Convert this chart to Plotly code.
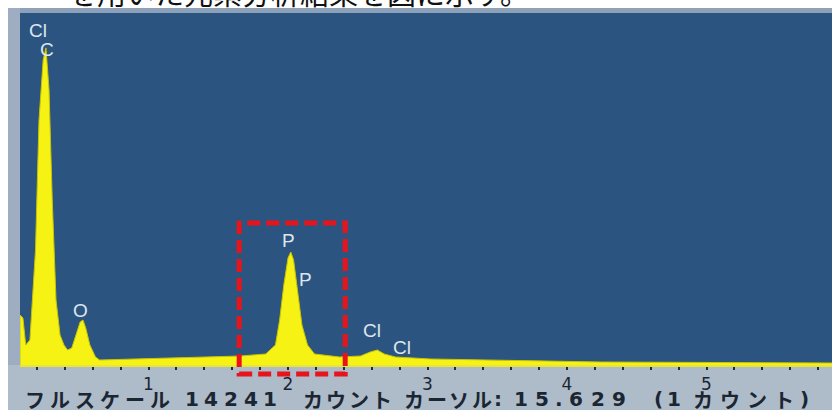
import plotly.graph_objects as go

# Spectrum (energy keV, counts)
energy_kev = [0.08, 0.10, 0.12, 0.15, 0.19, 0.215, 0.245, 0.265, 0.287, 0.31, 0.337,
              0.366, 0.394, 0.42, 0.45, 0.48, 0.51, 0.53, 0.55, 0.58, 0.62, 0.65,
              0.87, 1.08, 1.37, 1.66, 1.84, 1.91, 1.94, 1.97, 2.00, 2.02, 2.04, 2.07,
              2.10, 2.14, 2.19, 2.37, 2.52, 2.59, 2.64, 2.69, 2.77, 3.02, 3.52, 4.24, 5.90]
counts = [2023, 1900, 810, 1010, 4650, 9900, 12340, 12830, 11130, 6680, 2630,
          1214, 810, 607, 690, 1214, 1740, 1820, 1500, 810, 324, 202,
          243, 283, 324, 364, 445, 810, 1820, 3237, 4330, 4572, 4250, 3035,
          1618, 810, 445, 324, 364, 526, 607, 445, 324, 243, 202, 121, 81]

label_text = ["Cl", "C", "O", "P", "P", "Cl", "Cl"]
label_kev = [0.208, 0.272, 0.509, 2.007, 2.129, 2.602, 2.817]
label_counts = [13513, 12745, 2225, 5017, 3440, 1416, 728]

tick_vals = [round(0.2 * i, 1) for i in range(0, 30)]
tick_major = [1, 2, 3, 4, 5]
tick_text = [str(int(round(v))) if abs(v - round(v)) < 1e-9 and int(round(v)) in tick_major else "" for v in tick_vals]

full_scale = 14241
x_range = [0.0789, 5.8996]
box_kev = [1.65, 2.41]

# status line pieces with their pixel spans (start, end)
status_parts = ["フルスケール", "14241", "カウント", "カーソル:", "15.629", "(1", "カウント)"]
status_spans = [(22, 172), (182, 280), (302, 393), (403, 503), (510, 630), (652, 683), (690, 813)]
top_text = "を用いた元素分析結果を図に示す。"

W, H = 832, 410
ml, mr, mt, mb = 20, 0, 13, 45
pw, ph = W - ml - mr, H - mt - mb

def px_x(px):
    return (px - ml) / pw

def px_y(py):
    return (H - mb - py) / ph

def kev_to_paper(k):
    return (k - x_range[0]) / (x_range[1] - x_range[0])

def char_weight(c):
    if c in ".:":
        return 0.45
    if c in "()":
        return 0.6
    if c.isdigit():
        return 0.8
    return 1.0

fig = go.Figure()
fig.add_trace(go.Scatter(
    x=energy_kev, y=counts, mode="lines", fill="tozeroy",
    line=dict(color="#c9c400", width=1), fillcolor="#f6f214",
    hoverinfo="skip", showlegend=False))

for t, xv, yv in zip(label_text, label_kev, label_counts):
    fig.add_annotation(x=xv, y=yv, text=t, showarrow=False,
                       font=dict(family="Liberation Sans", size=19, color="#dde6ef"))

shapes = [
    dict(type="rect", xref="paper", yref="paper", x0=px_x(8), x1=px_x(W), y0=px_y(13), y1=px_y(8),
         fillcolor="#8da1b8", line=dict(width=0), layer="below"),
    dict(type="rect", xref="paper", yref="paper", x0=px_x(8), x1=0, y0=px_y(H), y1=px_y(8),
         fillcolor="#9eadc2", line=dict(width=0), layer="below"),
    dict(type="rect", xref="paper", yref="paper", x0=px_x(8), x1=1, y0=px_y(H), y1=0,
         fillcolor="#aebbc9", line=dict(width=0), layer="below"),
    dict(type="rect", xref="paper", yref="paper",
         x0=kev_to_paper(box_kev[0]), x1=kev_to_paper(box_kev[1]),
         y0=px_y(374), y1=px_y(223),
         line=dict(color="#e8141c", width=5, dash="13px,6px"), fillcolor="rgba(0,0,0,0)"),
]

# status line: spread each character over the span it occupies in the source
for part, (s, e) in zip(status_parts, status_spans):
    weights = [char_weight(c) for c in part]
    total = sum(weights)
    acc = 0.0
    for c, wgt in zip(part, weights):
        cx = s + (acc + wgt / 2) / total * (e - s)
        acc += wgt
        latin = c.isdigit() or c in ".:()"
        fig.add_annotation(xref="paper", yref="paper", x=px_x(cx), y=px_y(399),
                           xanchor="center", yanchor="middle", text=f"<b>{c}</b>", showarrow=False,
                           borderpad=0,
                           font=dict(family="DejaVu Sans" if latin else "Noto Sans CJK JP",
                                     size=20, color="#1b2633"))

fig.add_annotation(xref="paper", yref="paper", x=px_x(66), y=px_y(-8), xanchor="left", yanchor="middle",
                   text=top_text, showarrow=False,
                   font=dict(family="Noto Sans CJK JP", size=29, color="#111111"))

fig.update_layout(
    width=W, height=H, margin=dict(l=ml, r=mr, t=mt, b=mb),
    paper_bgcolor="white", plot_bgcolor="#2b5580",
    shapes=shapes,
    xaxis=dict(range=x_range, tickvals=tick_vals, ticktext=tick_text, ticks="outside",
               ticklen=3, tickwidth=2, tickcolor="#1e2a36", showgrid=False, zeroline=False,
               showline=True, linecolor="#e8e43a", linewidth=2,
               tickfont=dict(family="DejaVu Sans", size=17, color="#1a2633")),
    yaxis=dict(range=[0, full_scale], visible=False, showgrid=False, zeroline=False),
)

fig.write_html("out.html", config={"displayModeBar": False},
               post_script="document.body.style.margin='0';")
